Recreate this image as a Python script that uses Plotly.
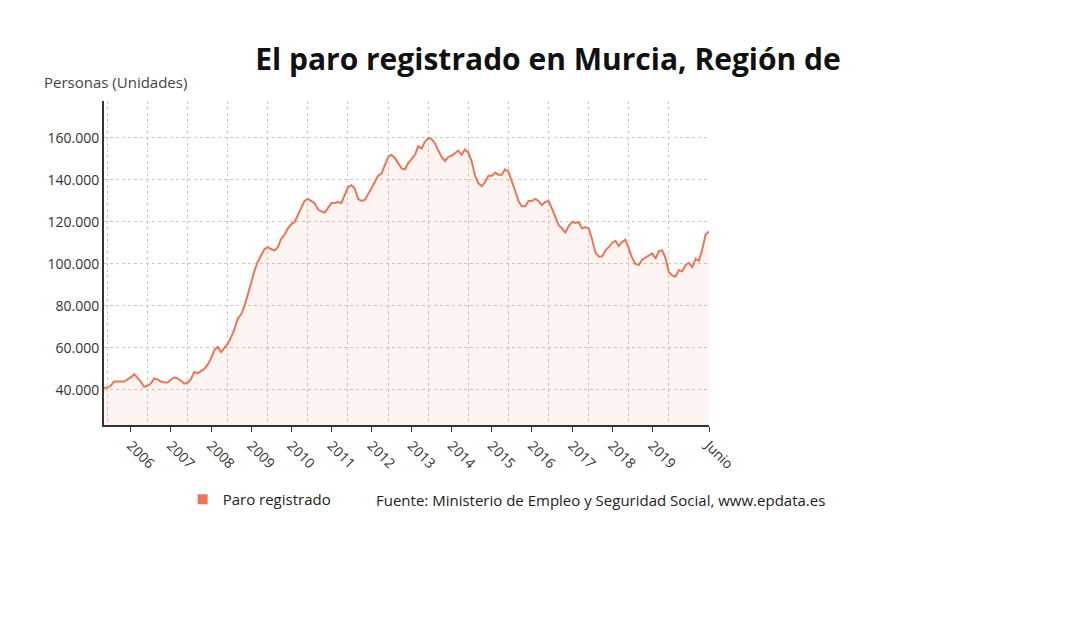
import plotly.graph_objects as go
import pandas as pd

dates = pd.date_range("2005-05-01", "2020-06-01", freq="MS")
values_k = [
 41, 41, 42, 44, 44, 44, 44, 45,
 46, 47.5, 46, 44, 41.5, 42, 43, 45.5, 45, 44, 43.5, 43.5,
 45, 46, 45.5, 44.5, 43, 43.5, 45, 48.5, 48, 49, 50, 52,
 55, 59, 60.5, 58, 60, 62, 65, 69, 74, 76, 80, 86,
 91, 97, 101, 104, 107, 108, 107, 106.5, 108, 112, 114, 117,
 119, 120, 123, 127, 130, 131, 130, 129, 126, 125, 124.5, 127,
 129, 129, 129.5, 129, 133, 136.5, 137.5, 136, 131, 130, 130.5, 133,
 136, 139, 142, 143, 147, 151, 152, 150.5, 148, 145.5, 145, 148,
 150, 152, 156, 155, 158, 160, 159.5, 157.5, 154, 151, 149, 151,
 151.5, 153, 154, 152, 154.5, 153, 149, 142, 138.5, 137, 139, 142,
 142, 143.5, 142.5, 142.5, 145, 144, 140, 135, 130, 127.5, 127.5, 130,
 130, 131, 130, 128, 129.5, 130, 126.5, 122, 118.5, 117, 115, 118,
 120, 119.5, 120, 117, 117.5, 117, 112, 105.5, 103.5, 103.5, 106.5, 108,
 110, 111, 108.5, 110.5, 111.5, 107.5, 103, 100, 99.5, 102, 103, 104,
 105, 102.5, 106, 106.5, 103, 96, 94.5, 94, 97, 96.5, 99.5, 100.5,
 98.5, 102.5, 101.5, 107, 114, 115.5,
]
values = [v * 1000 for v in values_k]
tick_vals = [f"{y}-01-01" for y in range(2006, 2020)] + ["2020-06-01"]
tick_text = [str(y) for y in range(2006, 2020)] + ["Junio"]
color = "#e8765a"

fig = go.Figure()
fig.add_trace(go.Scatter(x=dates, y=values, mode="lines", line=dict(color=color, width=2),
                         fill="tozeroy", fillcolor="rgba(238,118,86,0.09)", showlegend=False))
fig.add_trace(go.Scatter(x=[None], y=[None], mode="markers", name="Paro registrado",
                         marker=dict(symbol="square", size=10, color=color)))
fig.update_layout(
    width=1080, height=634, plot_bgcolor="white", paper_bgcolor="white",
    font=dict(family="Open Sans", color="#333", size=14),
    separators=",.",
    margin=dict(l=96, r=379, t=93, b=217),
    title=dict(text="<b>El paro registrado en Murcia, Región de</b>", x=0.5, xref="container",
               xanchor="center", y=0.935, font=dict(size=30, color="#111")),
    legend=dict(orientation="h", x=0.13, y=-0.23, xanchor="left", yanchor="middle",
                itemwidth=30, font=dict(size=15, color="#222")),
    xaxis=dict(range=["2005-05-01", "2020-06-01"], tickvals=tick_vals, ticktext=tick_text,
               tickangle=45, showgrid=False, ticks="outside", ticklen=5, tickcolor="#333",
               showline=True, linecolor="#333", linewidth=2, tickfont=dict(size=14),
               minor=dict(tick0="2005-06-01", dtick="M12", showgrid=True,
                          gridcolor="#c8c8c8", griddash="dot", ticks="")),
    yaxis=dict(range=[23300, 177600], tickvals=[40000, 60000, 80000, 100000, 120000, 140000, 160000],
               tickformat=",d", showgrid=True, gridcolor="#c8c8c8", griddash="dot",
               showline=True, linecolor="#333", linewidth=2, ticks="", tickfont=dict(size=14)),
    annotations=[
        dict(text="Personas (Unidades)", xref="paper", yref="paper", x=-0.102, y=1.06,
             xanchor="left", yanchor="middle", showarrow=False,
             font=dict(size=15, color="#444")),
        dict(text="Fuente: Ministerio de Empleo y Seguridad Social, www.epdata.es",
             xref="paper", yref="paper", x=0.447, y=-0.23, xanchor="left", yanchor="middle",
             showarrow=False, font=dict(size=15, color="#222")),
    ],
)
fig.write_html("out.html")
